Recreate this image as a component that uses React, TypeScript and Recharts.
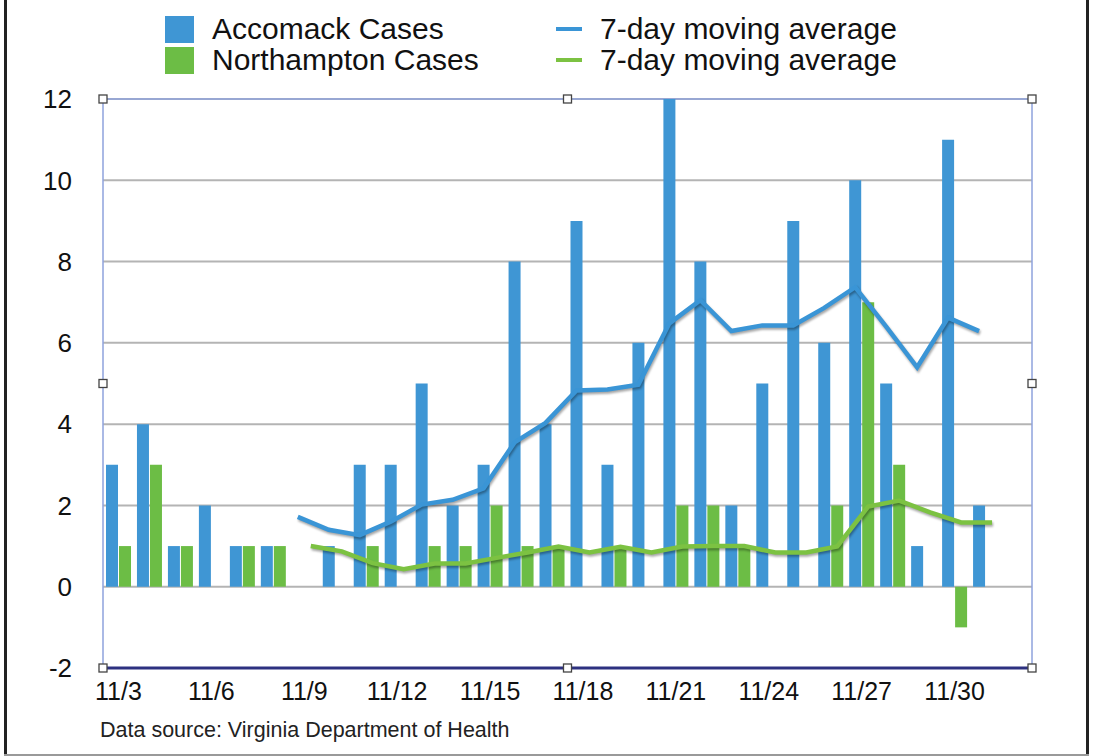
import React from 'react';
import { ComposedChart, Bar, Line, XAxis, YAxis, CartesianGrid, ReferenceArea } from 'recharts';

const dates = [
  '11/3', '11/4', '11/5', '11/6', '11/7', '11/8', '11/9', '11/10', '11/11', '11/12',
  '11/13', '11/14', '11/15', '11/16', '11/17', '11/18', '11/19', '11/20', '11/21', '11/22',
  '11/23', '11/24', '11/25', '11/26', '11/27', '11/28', '11/29', '11/30', '12/1', '12/2',
];
const accomackCases = [3, 4, 1, 2, 1, 1, 0, 1, 3, 3, 5, 2, 3, 8, 4, 9, 3, 6, 12, 8, 2, 5, 9, 6, 10, 5, 1, 11, 2, null];
const northamptonCases = [1, 3, 1, 0, 1, 1, 0, 0, 1, 0, 1, 1, 2, 1, 1, 0, 1, 0, 2, 2, 1, 0, 0, 2, 7, 3, 0, -1, 0, null];
const accomackAvg = [
  null, null, null, null, null, null, 1.72, 1.4, 1.27, 1.6,
  2.02, 2.14, 2.42, 3.55, 4.03, 4.83, 4.85, 4.97, 6.48, 7.05,
  6.29, 6.43, 6.43, 6.86, 7.37, 6.4, 5.4, 6.62, 6.29, null,
];
const northamptonAvg = [
  null, null, null, null, null, null, 1.0, 0.87, 0.58, 0.43,
  0.57, 0.57, 0.71, 0.84, 0.99, 0.84, 0.98, 0.84, 0.99, 1.0,
  1.0, 0.84, 0.84, 0.99, 1.97, 2.12, 1.83, 1.58, 1.58, null,
];
const yTicks = [-2, 0, 2, 4, 6, 8, 10, 12];

const data = dates.map((d, i) => ({
  date: d,
  accomack: accomackCases[i],
  northampton: northamptonCases[i],
  accomackAvg: accomackAvg[i],
  northamptonAvg: northamptonAvg[i],
}));

const BLUE = '#3f96d4';
const GREEN = '#6cbd45';
const FONT = '"Liberation Sans", Arial, Helvetica, sans-serif';

// plot frame with the little selection handles
const Frame = (props: any) => {
  const { x, y, width, height } = props;
  const s = 8;
  const xs = [x, x + width / 2, x + width];
  const ys = [y, y + height / 2, y + height];
  const pts: [number, number][] = [];
  xs.forEach((px, i) => ys.forEach((py, j) => {
    if (i === 1 && j === 1) return;
    pts.push([px, py]);
  }));
  return (
    <g>
      <rect x={x} y={y} width={width} height={height} fill="none" stroke="#8fa3dd" strokeWidth={1.5} />
      <line x1={x} x2={x + width} y1={y + height} y2={y + height} stroke="#2d3180" strokeWidth={3} />
      {pts.map(([px, py], k) => (
        <rect key={k} x={px - s / 2} y={py - s / 2} width={s} height={s} fill="#fff" stroke="#444" strokeWidth={1.3} />
      ))}
    </g>
  );
};

const LegendItem = ({ top, left, kind, color, label }: any) => (
  <>
    {kind === 'box' ? (
      <div style={{ position: 'absolute', left, top: top - 13, width: 29, height: 27, background: color }} />
    ) : (
      <div style={{ position: 'absolute', left, top: top - 2, width: 26, height: 4, background: color }} />
    )}
    <div style={{ position: 'absolute', left: left + (kind === 'box' ? 47 : 44), top: top - 15, fontSize: 30, lineHeight: '30px', color: '#111', whiteSpace: 'nowrap' }}>
      {label}
    </div>
  </>
);

export default function App() {
  return (
    <div style={{ position: 'absolute', left: 0, top: 0, width: 1096, height: 756, background: '#fff', fontFamily: FONT, overflow: 'hidden' }}>
      <style>{`.ma-line .recharts-line-curve{filter:drop-shadow(1px 2px 1px rgba(0,0,0,0.35));}`}</style>
      <ComposedChart
        width={1096}
        height={756}
        data={data}
        margin={{ top: 99, right: 64, bottom: 0, left: 0 }}
        barGap={1}
        barSize={12}
      >
        <CartesianGrid vertical={false} stroke="#b4b4b4" strokeWidth={2} />
        <XAxis
          dataKey="date"
          interval={2}
          axisLine={false}
          tickLine={false}
          tickSize={0}
          tickMargin={14}
          height={88}
          tick={{ fill: '#111', fontSize: 25, fontFamily: FONT }}
        />
        <XAxis xAxisId="b" dataKey="date" hide padding={{ left: -6.5, right: 6.5 }} />
        <XAxis xAxisId="g" dataKey="date" hide padding={{ left: 6.5, right: -6.5 }} />
        <YAxis
          domain={[-2, 12]}
          ticks={yTicks}
          width={103}
          axisLine={false}
          tickLine={false}
          tickSize={0}
          tickMargin={31}
          tick={{ fill: '#111', fontSize: 26, fontFamily: FONT }}
        />
        <Bar dataKey="accomack" fill={BLUE} isAnimationActive={false} />
        <Bar dataKey="northampton" fill={GREEN} isAnimationActive={false} />
        <Line
          xAxisId="b"
          className="ma-line"
          type="linear"
          dataKey="accomackAvg"
          stroke="#3a95d6"
          strokeWidth={4.5}
          dot={false}
          isAnimationActive={false}
        />
        <Line
          xAxisId="g"
          className="ma-line"
          type="linear"
          dataKey="northamptonAvg"
          stroke="#7cc242"
          strokeWidth={4.5}
          dot={false}
          isAnimationActive={false}
        />
        <ReferenceArea y1={-2} y2={12} ifOverflow="visible" shape={Frame} />
      </ComposedChart>

      <LegendItem top={29} left={165} kind="box" color={BLUE} label="Accomack Cases" />
      <LegendItem top={60} left={165} kind="box" color={GREEN} label="Northampton Cases" />
      <LegendItem top={29} left={556} kind="line" color="#3a95d6" label="7-day moving average" />
      <LegendItem top={60} left={556} kind="line" color="#7cc242" label="7-day moving average" />

      <div style={{ position: 'absolute', left: 100, top: 718, fontSize: 21.5, color: '#222', whiteSpace: 'nowrap' }}>
        Data source: Virginia Department of Health
      </div>

      <div style={{ position: 'absolute', left: 4, top: 0, width: 3, height: 756, background: '#222' }} />
      <div style={{ position: 'absolute', left: 1086, top: 0, width: 3, height: 756, background: '#222' }} />
      <div style={{ position: 'absolute', left: 4, top: 754, width: 1085, height: 2, background: '#999' }} />
    </div>
  );
}
